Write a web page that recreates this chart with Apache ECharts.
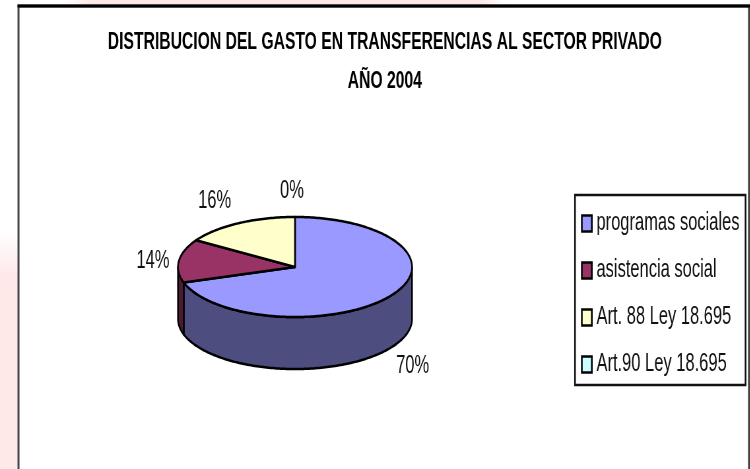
<!DOCTYPE html>
<html><head><meta charset="utf-8">
<style>html,body{margin:0;padding:0;background:#fff;overflow:hidden;width:750px;height:469px}
#c{width:1136px;height:469px;transform:scaleX(0.66);transform-origin:0 0}</style>
<script src="https://cdn.jsdelivr.net/npm/echarts@6/dist/echarts.min.js"></script>
</head><body><div id="c"></div>
<script>
const titleText = 'DISTRIBUCION DEL GASTO EN TRANSFERENCIAS AL SECTOR PRIVADO\nAÑO 2004';
const categories = ['programas sociales','asistencia social','Art. 88 Ley 18.695','Art.90 Ley 18.695'];
const values = [70,14,16,0];
const labels = ['70%','14%','16%','0%'];
const colors = ['#9999FF','#993366','#FFFFCC','#CCFFFF'];
const sideColors = ['#4D4D80','#4D1A33','#808066','#668080'];

// The reference is a horizontally squeezed picture: the chart is laid out wider and squeezed by K.
const K = 0.66;
const sx = v => v/K;
const PIE = {cx:sx(295), cy:267, rx:sx(117), ry:50, depth:52};
const labelOffset = [[23,70],[-26,0],[-24,-22],[-3,-26]].map(o=>[sx(o[0]),o[1]]);
const FONT = '"Liberation Sans",Arial,sans-serif';
const total = values.reduce((a,b)=>a+b,0);
const rim = (deg,dy=0)=>{const r=deg*Math.PI/180;return [PIE.cx+PIE.rx*Math.sin(r),PIE.cy-PIE.ry*Math.cos(r)+dy];};
const arc = (a,b,dy=0)=>{const p=[];const n=Math.max(1,Math.ceil(Math.abs(b-a)));for(let i=0;i<=n;i++)p.push(rim(a+(b-a)*i/n,dy));return p;};
const line = {stroke:'#000',lineWidth:2.5,lineJoin:'round'};

function makeSeries(idx){
  const start = values.slice(0,idx).reduce((a,b)=>a+b,0)/total*360;
  const end = start + values[idx]/total*360;
  return {
    type:'custom', name:categories[idx], coordinateSystem:'none', silent:true,
    data:[values[idx]],
    itemStyle:{color:colors[idx]},
    z: 2,
    renderItem(){
      const children=[];
      const a=Math.max(start,90), b=Math.min(end,270);
      if(b>a){
        children.push({type:'polygon',shape:{points:arc(a,b).concat(arc(b,a,PIE.depth))},
          style:Object.assign({fill:sideColors[idx]},line)});
      }
      if(end>start){
        children.push({type:'polygon',shape:{points:[[PIE.cx,PIE.cy]].concat(arc(start,end))},
          style:Object.assign({fill:colors[idx]},line)});
      }
      const mid=rim((start+end)/2);
      children.push({type:'text',style:{text:labels[idx],
        x:mid[0]+labelOffset[idx][0],y:mid[1]+labelOffset[idx][1],
        align:'center',verticalAlign:'middle',fill:'#111',font:'25px '+FONT}});
      return {type:'group',children};
    }
  };
}

const chart = echarts.init(document.getElementById('c'),null,{renderer:'canvas'});
chart.setOption({
  animation:false,
  backgroundColor:'#fff',
  title:{text:titleText,left:sx(381.5),top:18,textAlign:'center',
    textStyle:{fontFamily:FONT,fontWeight:'bold',fontSize:23.8,lineHeight:39,color:'#000'}},
  legend:{orient:'vertical',left:sx(575),top:195,padding:[16,sx(6),8,sx(6)],
    backgroundColor:'#fff',borderColor:'#111',borderWidth:2.5,
    itemWidth:sx(10),itemHeight:16,itemGap:22,selectedMode:false,
    textStyle:{fontFamily:FONT,fontSize:25,color:'#111',padding:[0,0,0,2]},
    data:categories.map((name,i)=>({name,icon:'rect',
      itemStyle:{color:colors[i],borderColor:'#000',borderWidth:2.5}}))},
  graphic:[
    {type:'rect',z:-10,shape:{x:0,y:230,width:sx(18),height:239},
      style:{fill:new echarts.graphic.LinearGradient(0,0,0,1,[
        {offset:0,color:'#ffffff'},{offset:0.2,color:'#fee8e8'},{offset:1,color:'#fee8e8'}])}},
    {type:'rect',z:-10,shape:{x:sx(65),y:0,width:sx(440),height:5},
      style:{fill:new echarts.graphic.LinearGradient(0,0,1,0,[
        {offset:0,color:'#ffffff'},{offset:0.06,color:'#fee8e8'},{offset:0.94,color:'#fee8e8'},{offset:1,color:'#ffffff'}])}},
    {type:'rect',z:-9,shape:{x:sx(18.5),y:6,width:sx(730.5),height:480},
      style:{fill:'#fff',stroke:'#444',lineWidth:3}},
    {type:'line',z:-8,shape:{x1:sx(17.5),y1:6,x2:sx(750),y2:6},style:{stroke:'#000',lineWidth:3}}
  ],
  series:categories.map((_,i)=>makeSeries(i))
});
</script></body></html>
